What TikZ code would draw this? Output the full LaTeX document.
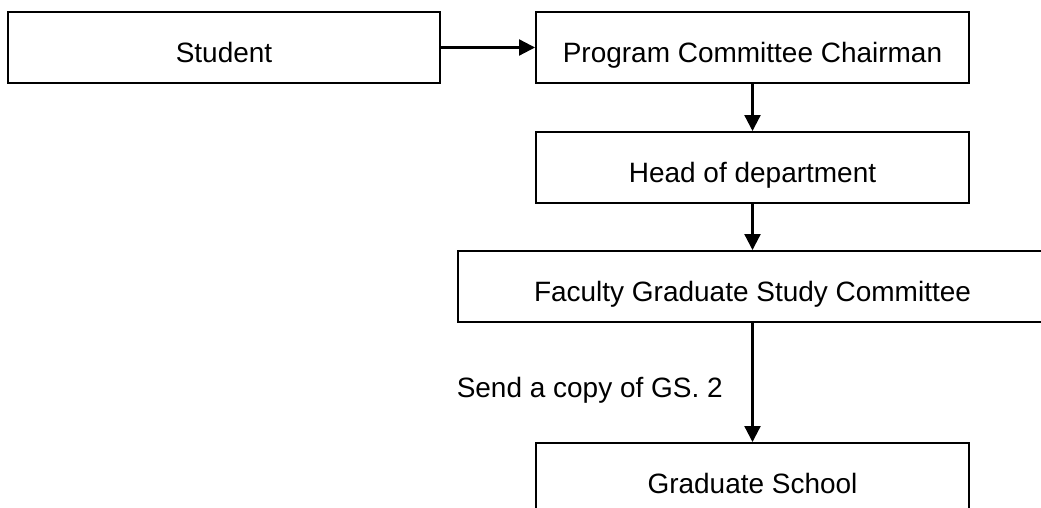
\documentclass[tikz,border=0pt]{standalone}
\usepackage{fontspec}
\setmainfont{Liberation Sans}
\usepackage{tikz}
\usetikzlibrary{arrows.meta,positioning}

\begin{document}
\begin{tikzpicture}[
	box/.style={shape=rectangle,draw=black,line width=1.4pt,inner sep=0pt,minimum height=1.775cm,text height=0.775cm,text depth=0pt},
	flow/.style={draw=black,line width=1.6pt,-{Triangle[length=0.4cm,width=0.4cm]}},
	font=\fontsize{19.9pt}{24pt}\selectfont]
	\useasboundingbox (0,0) rectangle (26.025,12.7);
	\node[box,minimum width=10.8cm]   (student) at (5.6, 11.5125)     {Student};
	\node[box,minimum width=10.825cm] (chair)   at (18.8125, 11.5125) {Program Committee Chairman};
	\node[box,minimum width=10.825cm] (head)    at (18.8125, 8.5125)  {Head of department};
	\node[box,minimum width=14.725cm] (faculty) at (18.8125, 5.5375)  {Faculty Graduate Study Committee};
	\node[box,minimum width=10.825cm] (grad)    at (18.8125, 0.7375)  {Graduate School};
	\draw[flow] (student) -- (chair);
	\draw[flow] (chair) -- (head);
	\draw[flow] (head) -- (faculty);
	\draw[flow] (faculty) -- node[left=0.6cm,text height=0.775cm,text depth=0pt]{Send a copy of GS. 2} (grad);
\end{tikzpicture}
\end{document}
